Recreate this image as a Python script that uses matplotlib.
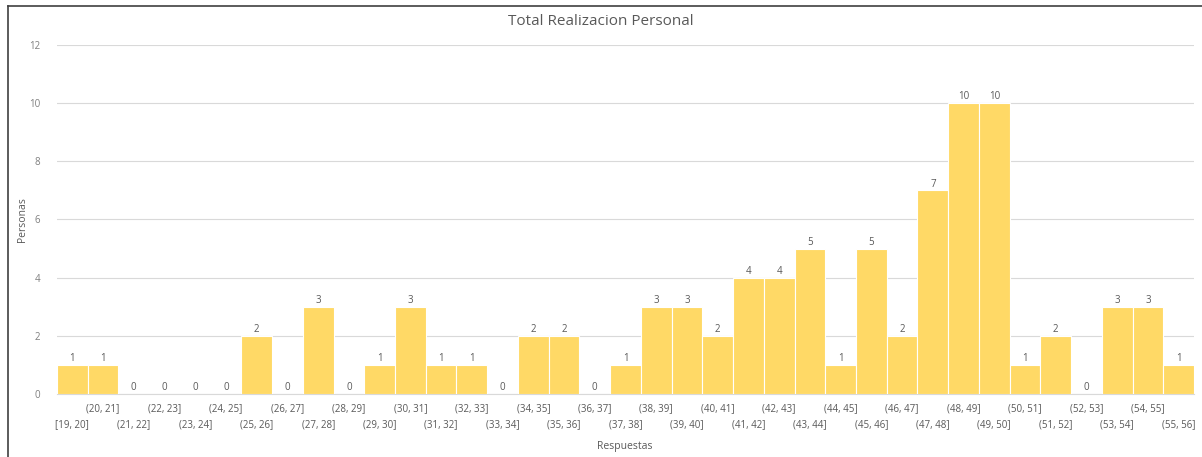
import matplotlib.pyplot as plt
import numpy as np
from matplotlib.lines import Line2D

plt.rcParams['font.family'] = ['Open Sans', 'DejaVu Sans']

bins = ['[19, 20]'] + ['({}, {}]'.format(a, a + 1) for a in range(20, 56)]
personas = [1, 1, 0, 0, 0, 0, 2, 0, 3, 0, 1, 3, 1, 1, 0, 2, 2, 0, 1, 3,
            3, 2, 4, 4, 5, 1, 5, 2, 7, 10, 10, 1, 2, 0, 3, 3, 1]

grey = '#595959'
fig = plt.figure(figsize=(12.02, 4.57), dpi=100)
ax = fig.add_axes([0.0474, 0.1379, 0.946, 0.7637])

x = np.arange(len(personas))
ax.bar(x, personas, width=1.0, color='#FFD966', edgecolor='white', linewidth=0.8, zorder=3)
for xi, v in zip(x, personas):
    ax.annotate(str(v), (xi, v), xytext=(0, 0.5), textcoords='offset points',
                ha='center', va='bottom', fontsize=7, color=grey)

ax.set_xlim(-0.5, len(personas) - 0.5)
ax.set_ylim(0, 12)
ax.set_yticks(range(0, 13, 2))
ax.grid(axis='y', color='#D9D9D9', linewidth=0.8, zorder=0)
ax.tick_params(axis='y', length=0, labelsize=7, labelcolor='#7F7F7F', pad=12)
ax.tick_params(axis='x', length=0)
ax.set_xticks([])
for s in ['top', 'right', 'left']:
    ax.spines[s].set_visible(False)
ax.spines['bottom'].set_color('#D9D9D9')

# two staggered rows of bin labels
for i, lab in enumerate(bins):
    off = -31 if i % 2 == 0 else -15
    ax.annotate(lab, (i, 0), xytext=(0, off), textcoords='offset pixels',
                ha='center', va='center', fontsize=7, color=grey,
                annotation_clip=False)

fig.text(0.5, 0.952, 'Total Realizacion Personal', ha='center', va='center',
         fontsize=11, color=grey)
fig.text(625 / 1202, 1 - 447 / 457, 'Respuestas', ha='center', va='center', fontsize=7.5, color=grey)
fig.text(22 / 1202, 1 - 220 / 457, 'Personas', ha='center', va='center', rotation=90,
         fontsize=7.5, color=grey)

# screenshot frame lines
fig.add_artist(Line2D([8 / 1202, 8 / 1202], [0, 1 - 6 / 457], color='#404040', linewidth=1.2))
fig.add_artist(Line2D([8 / 1202, 1], [1 - 6 / 457, 1 - 6 / 457], color='#404040', linewidth=1.2))

fig.savefig('out.png', dpi=100)
